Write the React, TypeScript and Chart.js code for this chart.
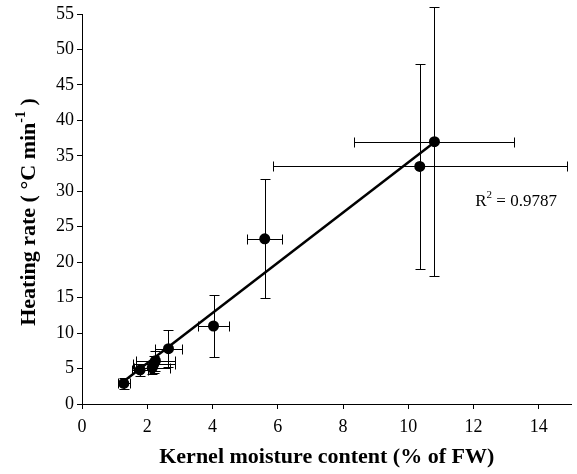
import React, { useEffect, useRef } from "react";
import { Chart, registerables } from "chart.js";

Chart.register(...registerables);

// ---- Data ----
const moisture = [1.28, 1.78, 2.15, 2.2, 2.25, 2.65, 4.03, 5.6, 10.35, 10.8];
const heatingRate = [2.9, 4.8, 5.1, 5.6, 6.1, 7.8, 11.0, 23.3, 33.5, 37.0];
const moistureErr = [0.18, 0.25, 0.55, 0.65, 0.6, 0.4, 0.47, 0.54, 4.5, 2.45];
const heatingErr = [0.8, 0.8, 0.9, 1.2, 1.4, 2.6, 4.35, 8.4, 14.4, 19.0];

const xTicks = [0, 2, 4, 6, 8, 10, 12, 14];
const yTicks = [0, 5, 10, 15, 20, 25, 30, 35, 40, 45, 50, 55];

const trendSlope = 3.54;
const trendIntercept = -1.33;
const rSquaredText = "0.9787";
const rLabelPos = { x: 12.05, y: 28.5 };

const xTitle = "Kernel moisture content (% of FW)";
const yTitleMain = "Heating rate ( \u00B0C min";
const yTitleSup = "-1";
const yTitleEnd = " )";

const SERIF = "'Liberation Serif', 'Times New Roman', serif";

const errorBarPlugin = {
  id: "errorBars",
  beforeDatasetsDraw(chart: any) {
    const { ctx, scales } = chart;
    const x = scales.x;
    const y = scales.y;
    const cap = 5;
    ctx.save();
    ctx.strokeStyle = "#000";
    ctx.lineWidth = 1;
    moisture.forEach((mx, i) => {
      const hy = heatingRate[i];
      const px = Math.round(x.getPixelForValue(mx)) + 0.5;
      const py = Math.round(y.getPixelForValue(hy)) + 0.5;
      const xl = Math.round(x.getPixelForValue(mx - moistureErr[i])) + 0.5;
      const xr = Math.round(x.getPixelForValue(mx + moistureErr[i])) + 0.5;
      const yt = Math.round(y.getPixelForValue(hy + heatingErr[i])) + 0.5;
      const yb = Math.round(y.getPixelForValue(hy - heatingErr[i])) + 0.5;
      ctx.beginPath();
      ctx.moveTo(xl, py);
      ctx.lineTo(xr, py);
      ctx.moveTo(xl, py - cap);
      ctx.lineTo(xl, py + cap);
      ctx.moveTo(xr, py - cap);
      ctx.lineTo(xr, py + cap);
      ctx.moveTo(px, yt);
      ctx.lineTo(px, yb);
      ctx.moveTo(px - cap, yt);
      ctx.lineTo(px + cap, yt);
      ctx.moveTo(px - cap, yb);
      ctx.lineTo(px + cap, yb);
      ctx.stroke();
    });
    ctx.restore();
  },
};

const textPlugin = {
  id: "textLabels",
  afterDraw(chart: any) {
    const { ctx, chartArea, scales } = chart;
    // Y axis title with superscript
    ctx.save();
    const cy = (chartArea.top + chartArea.bottom) / 2 + 3;
    ctx.translate(29, cy);
    ctx.rotate(-Math.PI / 2);
    ctx.fillStyle = "#000";
    ctx.textBaseline = "middle";
    ctx.textAlign = "left";
    const mainFont = `bold 22px ${SERIF}`;
    const supFont = `bold 14px ${SERIF}`;
    ctx.font = mainFont;
    const w1 = ctx.measureText(yTitleMain).width;
    const w3 = ctx.measureText(yTitleEnd).width;
    ctx.font = supFont;
    const w2 = ctx.measureText(yTitleSup).width;
    const total = w1 + w2 + w3;
    let sx = -total / 2;
    ctx.font = mainFont;
    ctx.fillText(yTitleMain, sx, 0);
    sx += w1;
    ctx.font = supFont;
    ctx.fillText(yTitleSup, sx, -8);
    sx += w2;
    ctx.font = mainFont;
    ctx.fillText(yTitleEnd, sx, 0);
    ctx.restore();

    // R^2 label
    ctx.save();
    ctx.fillStyle = "#000";
    ctx.textBaseline = "middle";
    ctx.textAlign = "left";
    const lx = scales.x.getPixelForValue(rLabelPos.x);
    const ly = scales.y.getPixelForValue(rLabelPos.y);
    ctx.font = `17px ${SERIF}`;
    ctx.fillText("R", lx, ly);
    const rw = ctx.measureText("R").width;
    ctx.font = `11px ${SERIF}`;
    ctx.fillText("2", lx + rw, ly - 7);
    const sw = ctx.measureText("2").width;
    ctx.font = `17px ${SERIF}`;
    ctx.fillText(" = " + rSquaredText, lx + rw + sw, ly);
    ctx.restore();
  },
};

export default function App() {
  const canvasRef = useRef<HTMLCanvasElement | null>(null);

  useEffect(() => {
    if (!canvasRef.current) return;
    const xMin = Math.min(...moisture);
    const xMax = Math.max(...moisture);
    const trend = [
      { x: xMin, y: trendSlope * xMin + trendIntercept },
      { x: xMax, y: trendSlope * xMax + trendIntercept },
    ];
    const points = moisture.map((m, i) => ({ x: m, y: heatingRate[i] }));

    const chart = new Chart(canvasRef.current, {
      type: "scatter",
      data: {
        datasets: [
          {
            label: "Heating rate",
            data: points,
            pointRadius: 5.5,
            pointHoverRadius: 5.5,
            backgroundColor: "#000",
            borderColor: "#000",
            borderWidth: 0,
            order: 0,
          },
          {
            type: "line",
            label: "Linear trend",
            data: trend,
            showLine: true,
            pointRadius: 0,
            borderColor: "#000",
            borderWidth: 2.5,
            fill: false,
            order: 1,
          } as any,
        ],
      },
      options: {
        responsive: false,
        animation: false,
        events: [],
        layout: { padding: { top: 14, right: -3, left: 0, bottom: 0 } },
        plugins: {
          legend: { display: false },
          tooltip: { enabled: false },
        },
        scales: {
          x: {
            type: "linear",
            min: 0,
            max: 15,
            afterBuildTicks: (s: any) => {
              s.ticks = xTicks.map((v) => ({ value: v }));
            },
            afterFit: (s: any) => {
              s.height = 70;
            },
            grid: {
              drawOnChartArea: false,
              drawTicks: true,
              tickLength: 5,
              color: "#000",
            },
            border: { display: true, color: "#000", width: 1 },
            ticks: {
              color: "#000",
              font: { family: SERIF, size: 18 },
              padding: 7,
              maxRotation: 0,
              autoSkip: false,
            },
            title: {
              display: true,
              text: xTitle,
              color: "#000",
              font: { family: SERIF, size: 22, weight: "bold" },
              padding: { top: 0, bottom: 3 },
            },
          },
          y: {
            type: "linear",
            min: 0,
            max: 55,
            afterBuildTicks: (s: any) => {
              s.ticks = yTicks.map((v) => ({ value: v }));
            },
            afterFit: (s: any) => {
              s.width = 82;
            },
            grid: {
              drawOnChartArea: false,
              drawTicks: true,
              tickLength: 5,
              color: "#000",
            },
            border: { display: true, color: "#000", width: 1 },
            ticks: {
              color: "#000",
              font: { family: SERIF, size: 18 },
              padding: 3,
              autoSkip: false,
            },
          },
        },
      },
      plugins: [errorBarPlugin, textPlugin],
    });
    return () => chart.destroy();
  }, []);

  return (
    <div style={{ position: "fixed", left: 0, top: 0, width: 577, height: 474, background: "#fff" }}>
      <canvas ref={canvasRef} width={577} height={474} />
    </div>
  );
}
